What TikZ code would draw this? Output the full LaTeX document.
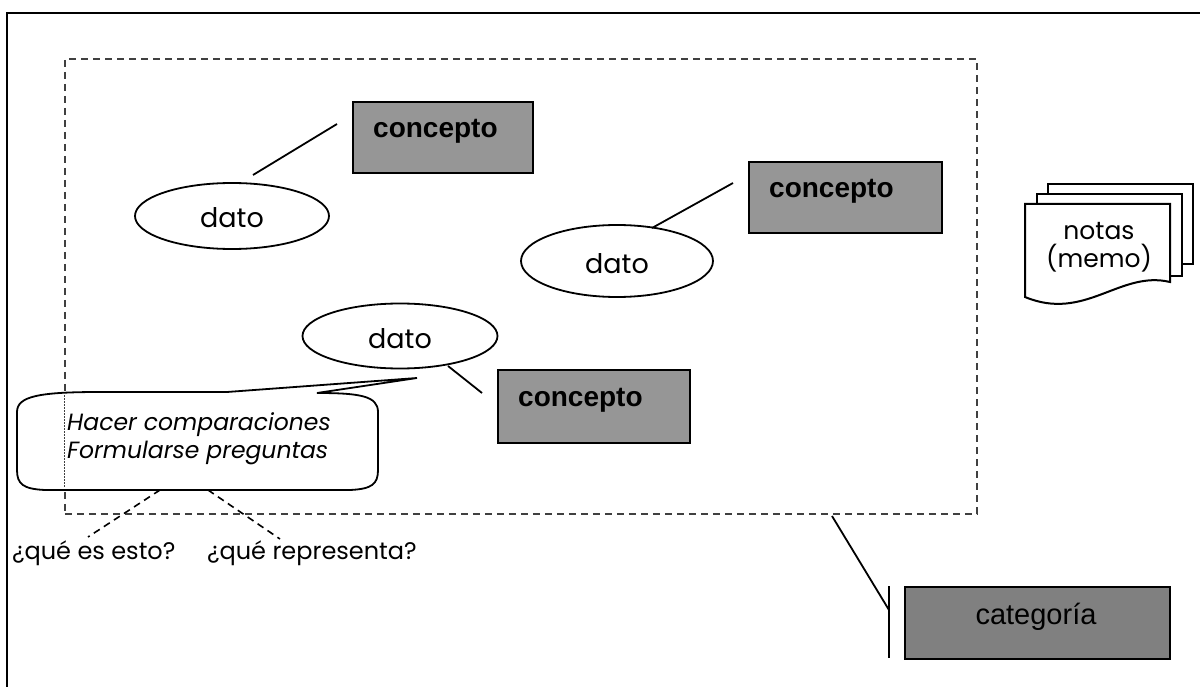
\documentclass[tikz,border=0pt]{standalone}
\usepackage{fontspec}
\setmainfont{Liberation Sans}
\newfontfamily\gothic{Poppins}
\usetikzlibrary{shapes.geometric}
\definecolor{concgray}{RGB}{150,150,150}
\definecolor{catgray}{RGB}{128,128,128}
\definecolor{dashgray}{RGB}{64,64,64}
\tikzset{
  frameline/.style={line width=2.6pt, black},
  arealine/.style={draw=dashgray, line width=1.7pt, dash pattern=on 7pt off 5pt},
  conceptbox/.style={draw=black, line width=2pt, fill=concgray, rectangle, inner sep=0pt, anchor=north west},
  categorybox/.style={conceptbox, fill=catgray},
  conceptlabel/.style={anchor=base west, inner sep=0pt, font=\fontsize{28}{32}\selectfont\bfseries},
  datoshape/.style={draw=black, line width=1.8pt, ellipse, fill=white, inner sep=0pt, minimum width=194pt, minimum height=66pt},
  datolabel/.style={anchor=base, inner sep=0pt, font=\gothic\fontsize{27}{32}\selectfont},
  link/.style={draw=black, line width=1.8pt},
  dlink/.style={draw=black, line width=1.6pt, dash pattern=on 7pt off 5pt},
  pageshape/.style={draw=black, line width=2pt, fill=white},
  gothtext/.style={anchor=base west, inner sep=0pt, font=\gothic\fontsize{24}{30}\selectfont},
  calltext/.style={gothtext, font=\gothic\itshape\fontsize{23.5}{28}\selectfont},
}
\begin{document}
\begin{tikzpicture}[x=1pt,y=-1pt]
\useasboundingbox (0,0) rectangle (1200,687);
% outer frame (only top and left edges are visible)
\draw[frameline] (7,687) -- (7,13) -- (1200,13);

% dashed area
\node[arealine, rectangle, inner sep=0pt, anchor=north west, minimum width=912pt, minimum height=455pt] (area) at (64,58) {};

% concept 1 and dato 1
\node[conceptbox, minimum width=180pt, minimum height=71pt] (c1) at (352,101) {};
\node[conceptlabel] (c1t) at (373,138) {concepto};
\node[datoshape] (d1) at (232,216) {};
\node[datolabel] (d1t) at (232,228) {dato};
\coordinate (c1a) at (337,124);
\coordinate (d1a) at (253,175);
\draw[link] (c1a) -- (d1a);

% concept 2 and dato 2
\node[conceptbox, minimum width=193pt, minimum height=71pt] (c2) at (748,161) {};
\node[conceptlabel] (c2t) at (769,198) {concepto};
\node[datoshape, minimum width=192pt, minimum height=72pt] (d2) at (617,261) {};
\node[datolabel] (d2t) at (617,273) {dato};
\coordinate (c2a) at (733,183);
\coordinate (d2a) at (652,228);
\draw[link] (c2a) -- (d2a);

% dato 3 and concept 3
\node[datoshape, minimum width=195pt, minimum height=65pt] (d3) at (400,336) {};
\node[datolabel] (d3t) at (400,348) {dato};
\node[conceptbox, minimum width=192pt, minimum height=73pt] (c3) at (497,369) {};
\node[conceptlabel] (c3t) at (518,406) {concepto};
\coordinate (d3a) at (448,366);
\coordinate (c3a) at (482,393);
\draw[link] (d3a) -- (c3a);

% callout
\coordinate (tip) at (417,378);
\draw[link, fill=white] (317,393) .. controls (360,393) and (378,396) .. (378,412)
  -- (378,470) .. controls (378,484) and (372,489) .. (350,490)
  -- (45,490) .. controls (23,489) and (17,484) .. (17,470)
  -- (17,412) .. controls (17,396) and (40,392) .. (100,392)
  -- (227,392) -- (tip) -- cycle;
\draw[dashgray, line width=1pt, dash pattern=on 1.5pt off 1.5pt] (64,395) -- (64,487);
\node[calltext] (q1) at (67,430) {Hacer comparaciones};
\node[calltext] (q2) at (67,458) {Formularse preguntas};

% questions
\coordinate (s1) at (160,490);
\coordinate (e1) at (88,537);
\coordinate (s2) at (208,490);
\coordinate (e2) at (280,539);
\draw[dlink] (s1) -- (e1);
\draw[dlink] (s2) -- (e2);
\node[gothtext] (w1) at (12,559) {¿qué es esto?};
\node[gothtext] (w2) at (207,559) {¿qué representa?};

% notes
\draw[pageshape] (1048,184) rectangle (1193,264);
\draw[pageshape] (1037,194) rectangle (1182,276);
\draw[pageshape] (1025,204) -- (1170,204) -- (1170,282) .. controls (1120,270) and (1085,322) .. (1025,297) -- cycle;
\node[datolabel, font=\gothic\fontsize{25}{30}\selectfont] (n1) at (1099,240) {notas};
\node[datolabel, font=\gothic\fontsize{25}{30}\selectfont] (n2) at (1099,268) {(memo)};

% category
\node[categorybox, minimum width=265pt, minimum height=72pt] (cat) at (904,586) {};
\node[anchor=base, inner sep=0pt, font=\fontsize{29}{34}\selectfont] (catt) at (1036,624) {categoría};
\coordinate (ab) at (832,516);
\coordinate (bar) at (889,610);
\coordinate (bartop) at (889,586);
\coordinate (barbot) at (889,658);
\draw[link] (ab) -- (bar);
\draw[link] (bartop) -- (barbot);
\end{tikzpicture}
\end{document}
